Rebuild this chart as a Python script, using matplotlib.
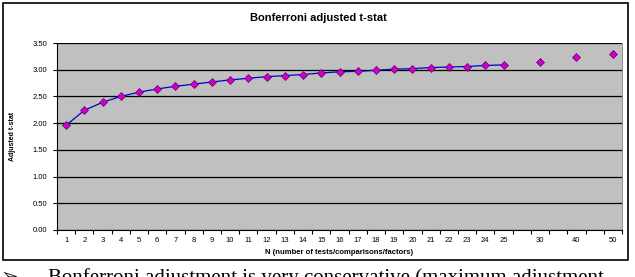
import numpy as np
import matplotlib.pyplot as plt
from matplotlib.patches import Rectangle

# categories (blank slots between 25, 30, 40, 50 as in the original sheet)
n_labels = [str(i) for i in range(1, 26)] + ['', '30', '', '40', '', '50']
t_stat = [1.96, 2.24, 2.39, 2.50, 2.58, 2.64, 2.69, 2.73, 2.77, 2.81,
          2.84, 2.87, 2.89, 2.91, 2.94, 2.96, 2.97, 2.99, 3.01, 3.02,
          3.04, 3.05, 3.06, 3.08, 3.09, np.nan, 3.14, np.nan, 3.23, np.nan, 3.29]
y_ticks = [0.0, 0.5, 1.0, 1.5, 2.0, 2.5, 3.0, 3.5]

plt.rcParams['font.family'] = ['Liberation Sans', 'DejaVu Sans']

fig = plt.figure(figsize=(6.35, 2.77), dpi=100)
W, H = 635, 277

# chart border
fig.patches.append(Rectangle((3 / W, 1 - 260 / H), 625 / W, 257 / H,
                             transform=fig.transFigure, fill=False,
                             edgecolor='black', linewidth=1.2))

ax = fig.add_axes([57 / W, 1 - 230 / H, 565 / W, 187 / H])
ax.set_facecolor('#C0C0C0')

x = np.arange(len(n_labels))
ax.plot(x, t_stat, color='#0000CC', linewidth=0.9, zorder=3)
ax.plot(x, t_stat, linestyle='none', marker='D', markersize=4.2,
        markerfacecolor='#CC00CC', markeredgecolor='#660066',
        markeredgewidth=0.5, zorder=4)

ax.set_xlim(-0.5, len(n_labels) - 0.5)
ax.set_ylim(0, 3.5)
ax.set_yticks(y_ticks)
ax.set_yticklabels(['%.2f' % v for v in y_ticks], fontsize=5.5)
ax.set_xticks(x)
ax.set_xticklabels(n_labels, fontsize=5.5)
ax.set_xticks(np.arange(-0.5, len(n_labels)), minor=True)
ax.tick_params(axis='x', which='major', length=0, pad=5)
ax.tick_params(axis='x', which='minor', length=3, width=0.8)
ax.tick_params(axis='y', length=3, width=0.8, pad=4)

ax.yaxis.grid(True, color='black', linewidth=0.9)
ax.set_axisbelow(True)
ax.spines['right'].set_color('#808080')
ax.spines['right'].set_linewidth(0.6)
ax.spines['top'].set_visible(False)
for s in ['left', 'bottom']:
    ax.spines[s].set_linewidth(0.8)

ax.set_xlabel('N (number of tests/comparisons/factors)', fontsize=5.5,
              fontweight='bold', labelpad=4)
ax.set_ylabel('Adjusted t-stat', fontsize=5, fontweight='bold', labelpad=12)
fig.text(318 / W, 1 - 18 / H, 'Bonferroni adjusted t-stat', ha='center',
         va='center', fontsize=8, fontweight='bold')

# text of the surrounding document, cut off at the bottom like the source
fig.text(1 / W, 1 - 283 / H, '\u27a2', fontsize=15, va='baseline',
         family=['DejaVu Sans'])
fig.text(48 / W, 1 - 283 / H,
         'Bonferroni adjustment is very conservative (maximum adjustment',
         fontsize=15, va='baseline', family=['Liberation Serif', 'DejaVu Serif'])

fig.savefig('out.png', dpi=100)
